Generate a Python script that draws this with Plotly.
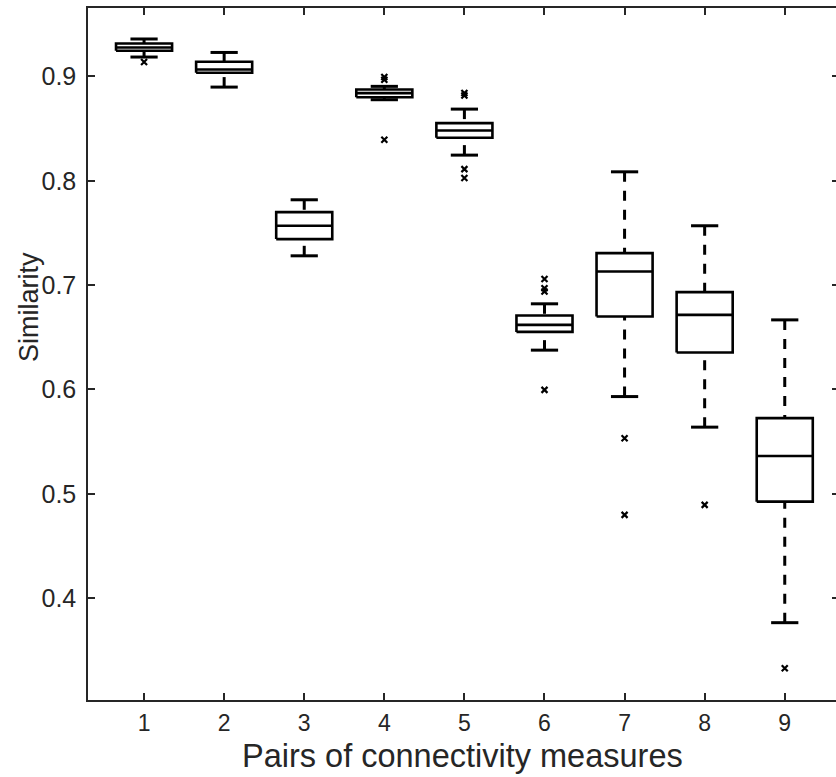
import plotly.graph_objects as go

# ---- data ----
positions = [1, 2, 3, 4, 5, 6, 7, 8, 9]
tick_labels = ["1", "2", "3", "4", "5", "6", "7", "8", "9"]
whisker_hi = [0.9359, 0.9230, 0.7818, 0.8905, 0.8687, 0.6821, 0.8086, 0.7569, 0.6667]
q3_vals = [0.9316, 0.9141, 0.7700, 0.8875, 0.8553, 0.6709, 0.7307, 0.6933, 0.5725]
medians = [0.9278, 0.9067, 0.7569, 0.8840, 0.8482, 0.6619, 0.7130, 0.6715, 0.5363]
q1_vals = [0.9246, 0.9035, 0.7441, 0.8800, 0.8412, 0.6552, 0.6699, 0.6354, 0.4925]
whisker_lo = [0.9186, 0.8898, 0.7281, 0.8777, 0.8246, 0.6377, 0.5932, 0.5639, 0.3765]
outliers = [
    [0.9138],
    [],
    [],
    [0.8994, 0.8968, 0.8393],
    [0.8841, 0.8818, 0.8112, 0.8026],
    [0.7058, 0.6971, 0.6939, 0.5996],
    [0.5533, 0.4798],
    [0.4894],
    [0.3328],
]
y_tickvals = [0.4, 0.5, 0.6, 0.7, 0.8, 0.9]
y_ticktext = ["0.4", "0.5", "0.6", "0.7", "0.8", "0.9"]

# ---- styles ----
BOX_W = 0.70
CAP_W = 0.34
INK = "black"
AX = "#262626"
FONT = "Liberation Sans, Arial, Helvetica, sans-serif"
Y_RANGE = [0.3024, 0.9656]

box_x, box_y = [], []
med_x, med_y = [], []
cap_x, cap_y = [], []
wh_x, wh_y = [], []
out_x, out_y = [], []
for p, hi, q3, m, q1, lo, outs in zip(positions, whisker_hi, q3_vals, medians,
                                      q1_vals, whisker_lo, outliers):
    x0, x1 = p - BOX_W / 2, p + BOX_W / 2
    box_x += [x0, x1, x1, x0, x0, None]
    box_y += [q1, q1, q3, q3, q1, None]
    med_x += [x0, x1, None]
    med_y += [m, m, None]
    c0, c1 = p - CAP_W / 2, p + CAP_W / 2
    cap_x += [c0, c1, None, c0, c1, None]
    cap_y += [hi, hi, None, lo, lo, None]
    wh_x += [p, p, None, p, p, None]
    wh_y += [hi, q3, None, lo, q1, None]
    for o in outs:
        out_x.append(p)
        out_y.append(o)

fig = go.Figure()
fig.add_trace(go.Scatter(x=wh_x, y=wh_y, mode="lines",
                         line=dict(color=INK, width=3, dash="10px,9px"),
                         hoverinfo="skip"))
fig.add_trace(go.Scatter(x=cap_x, y=cap_y, mode="lines",
                         line=dict(color=INK, width=3), hoverinfo="skip"))
fig.add_trace(go.Scatter(x=box_x, y=box_y, mode="lines",
                         line=dict(color=INK, width=2.6), hoverinfo="skip"))
fig.add_trace(go.Scatter(x=med_x, y=med_y, mode="lines",
                         line=dict(color=INK, width=2.6), hoverinfo="skip"))
fig.add_trace(go.Scatter(x=out_x, y=out_y, mode="markers",
                         marker=dict(symbol="x-thin", size=6, color=INK,
                                     line=dict(width=2.2, color=INK))))
# invisible helper trace to carry the right-hand tick marks
fig.add_trace(go.Scatter(x=[None], y=[None], yaxis="y2", mode="markers",
                         hoverinfo="skip"))

axis_common = dict(
    showgrid=False, zeroline=False, showline=True, linecolor=AX, linewidth=1.5,
    ticks="inside", ticklen=7, tickwidth=1.5, tickcolor=AX,
)
fig.update_layout(
    xaxis=dict(range=[0.3, 9.64], tickvals=positions, ticktext=tick_labels,
               tickfont=dict(family=FONT, size=23, color=AX),
               ticklabelstandoff=2, mirror="ticks", **axis_common),
    yaxis=dict(range=Y_RANGE, tickvals=y_tickvals, ticktext=y_ticktext,
               tickfont=dict(family=FONT, size=25, color=AX),
               ticklabelstandoff=5, **axis_common),
    yaxis2=dict(overlaying="y", side="right", range=Y_RANGE, tickvals=y_tickvals,
                showticklabels=False, showline=False, showgrid=False,
                zeroline=False, ticks="inside", ticklen=4, tickwidth=1.5,
                tickcolor=AX),
)

fig.add_annotation(text="Pairs of connectivity measures", xref="paper", yref="paper",
                   x=0.5, y=0, xanchor="center", yanchor="top", yshift=-36,
                   showarrow=False, font=dict(family=FONT, size=32.5, color=AX))
fig.add_annotation(text="Similarity", xref="paper", yref="paper",
                   x=0, y=0.568, xanchor="center", yanchor="middle", xshift=-59,
                   textangle=-90, showarrow=False,
                   font=dict(family=FONT, size=27, color=AX))

fig.update_layout(
    width=836, height=777, showlegend=False,
    margin=dict(l=88, r=0, t=8, b=77),
    plot_bgcolor="white", paper_bgcolor="white",
)

fig.write_html("out.html")
